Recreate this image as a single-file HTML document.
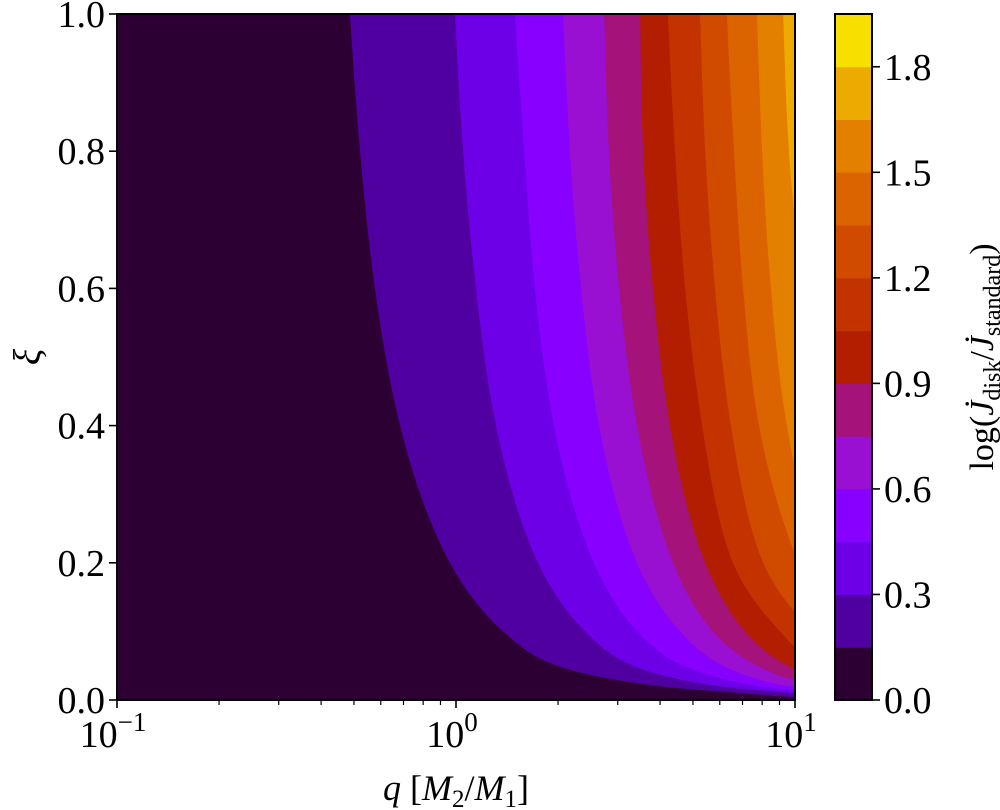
<!DOCTYPE html>
<html><head><meta charset="utf-8">
<style>
html,body{margin:0;padding:0;background:#fff;}
svg{display:block;font-family:"Liberation Serif","DejaVu Serif",serif;}
</style></head>
<body>
<svg id="chart" width="1000" height="810" viewBox="0 0 1000 810" xmlns="http://www.w3.org/2000/svg">
  <defs><clipPath id="plotclip"><rect x="117" y="14" width="678" height="686"/></clipPath></defs>
  <g id="plot" clip-path="url(#plotclip)"></g>
  <rect x="117" y="14" width="678" height="686" fill="none" stroke="#000" stroke-width="2"/>
  <g id="xaxis"></g>
  <g id="yaxis"></g>
  <g id="cbar"></g>
  <text x="456" y="800" font-size="36" text-anchor="middle"><tspan font-style="italic">q</tspan> [<tspan font-style="italic">M</tspan><tspan font-size="25" dy="7">2</tspan><tspan dy="-7">/</tspan><tspan font-style="italic">M</tspan><tspan font-size="25" dy="7">1</tspan><tspan dy="-7">]</tspan></text>
  <text transform="translate(40,357) rotate(-90)" font-size="38" font-style="italic" text-anchor="middle">ξ</text>
  <text transform="translate(993,357) rotate(-90)" font-size="34" text-anchor="middle">log(<tspan font-style="italic">J̇</tspan><tspan font-size="24" dy="7">disk</tspan><tspan dy="-7">/</tspan><tspan font-style="italic">J̇</tspan><tspan font-size="24" dy="7">standard</tspan><tspan dy="-7">)</tspan></text>
</svg>
<script>
// contour levels (boundaries between bands)
const levels = [0.15,0.3,0.45,0.6,0.75,0.9,1.05,1.2,1.35,1.5,1.65];
// band colours from 0.0 to 1.95 in steps of 0.15
const bandColors = ["#2d0033","#5000a0","#6e00e8","#8800ff","#9a10d2","#a4127a","#b31e00","#c33300","#d04a00","#db6400","#e48000","#edaa00","#f7e000"];
const cbarTicks = [0.0,0.3,0.6,0.9,1.2,1.5,1.8];
const yTicks = [0.0,0.2,0.4,0.6,0.8,1.0];
const xTickExps = [-1,0,1];
const xiRows = [1.0,0.8,0.6,0.4,0.2,0.1,0.05,0.02,0.01,0.003];
const boundaryLogQ = [
 [-0.313,-0.003,0.174,0.316,0.437,0.543,0.625,0.720,0.799,0.888,0.965],
 [-0.283,0.021,0.201,0.336,0.451,0.552,0.646,0.735,0.820,0.903,0.982],
 [-0.239,0.059,0.233,0.369,0.481,0.581,0.676,0.764,0.847,0.929,1.02],
 [-0.165,0.118,0.289,0.422,0.534,0.631,0.726,0.811,0.894,0.976,1.06],
 [-0.018,0.242,0.407,0.534,0.640,0.735,0.817,0.906,1.01,1.08,1.15],
 [0.139,0.381,0.534,0.661,0.758,0.853,0.956,1.05,1.12,1.2,1.28],
 [0.298,0.522,0.670,0.788,0.888,0.979,1.07,1.15,1.23,1.31,1.4],
 [0.602,0.779,0.897,0.985,1.08,1.17,1.26,1.35,1.44,1.53,1.62],
 [0.84,1.0,1.1,1.2,1.3,1.4,1.5,1.6,1.7,1.8,1.9],
 [1.05,1.2,1.35,1.5,1.6,1.7,1.8,1.9,2.0,2.1,2.2]
];
const NS="http://www.w3.org/2000/svg";
const X0=117,X1=795,Y0=700,Y1=14;
function xs(lq){return X0+(lq+1)/2*(X1-X0);}
function ys(xi){return Y0-xi*(Y0-Y1);}
function mk(tag,attrs,parent){const e=document.createElementNS(NS,tag);for(const k in attrs)e.setAttribute(k,attrs[k]);parent.appendChild(e);return e;}

const plot=document.getElementById('plot');
const bg=mk('rect',{x:X0,y:Y1,width:X1-X0,height:Y0-Y1,fill:bandColors[0]},plot);


levels.forEach((lv,k)=>{
  // spline in (log10 xi, log10 q) space, sampled densely
  const P=xiRows.map((xi,r)=>[Math.log10(xi),boundaryLogQ[r][k]]);
  const pts=[];
  for(let i=0;i<P.length-1;i++){
    const p0=P[Math.max(0,i-1)],p1=P[i],p2=P[i+1],p3=P[Math.min(P.length-1,i+2)];
    for(let s=0;s<20;s++){
      const t=s/20,t2=t*t,t3=t2*t;
      const f=(a,b,c,d)=>0.5*(2*b+(-a+c)*t+(2*a-5*b+4*c-d)*t2+(-a+3*b-3*c+d)*t3);
      const lt=f(p0[0],p1[0],p2[0],p3[0]);
      const lq=f(p0[1],p1[1],p2[1],p3[1]);
      pts.push([xs(lq),ys(Math.pow(10,lt))]);
    }
  }
  const last=P[P.length-1];
  pts.push([xs(last[1]),ys(Math.pow(10,last[0]))]);
  let d='M'+pts[0][0].toFixed(2)+','+(Y1-5);
  pts.forEach(p=>{d+=' L'+p[0].toFixed(2)+','+p[1].toFixed(2);});
  d+=' L'+pts[pts.length-1][0].toFixed(2)+','+(Y0+5)+' L1200,'+(Y0+5)+' L1200,'+(Y1-5)+' Z';
  const p=mk('path',{d:d,fill:bandColors[k+1]},plot);
  
  
});

// x axis
const xa=document.getElementById('xaxis');
xTickExps.forEach(e=>{
  const x=xs(e);
  const t=mk('line',{x1:x,y1:Y0,x2:x,y2:Y0+8,stroke:'#000','stroke-width':1.6},xa);
  
  
  const lab=mk('text',{x:x-4,y:747,'font-size':38,'text-anchor':'middle'},xa);
  
  
  lab.textContent='10';
  const sup=mk('tspan',{'font-size':27,dy:-16},lab);
  sup.textContent=e<0?'−'+(-e):String(e);
  if(e<1){for(let m=2;m<10;m++){
    const xm=xs(e+Math.log10(m));
    const mt=mk('line',{x1:xm,y1:Y0,x2:xm,y2:Y0+5,stroke:'#000','stroke-width':1.2},xa);
    
    
  }}
});
// y axis
const ya=document.getElementById('yaxis');
yTicks.forEach(v=>{
  const y=ys(v);
  const t=mk('line',{x1:X0-8,y1:y,x2:X0,y2:y,stroke:'#000','stroke-width':1.6},ya);
  
  
  const lab=mk('text',{x:X0-12,y:y+13,'font-size':38,'text-anchor':'end'},ya);
  
  
  lab.textContent=v.toFixed(1);
});
// colorbar
const cb=document.getElementById('cbar');
const CX=835,CW=37,CT=14,CB=700,VMAX=1.95;
function cy(v){return CB-v/VMAX*(CB-CT);}
bandColors.forEach((c,i)=>{
  const r=mk('rect',{x:CX,y:cy((i+1)*0.15),width:CW,height:cy(i*0.15)-cy((i+1)*0.15)+0.5,fill:c},cb);
  
  
});
const fr=mk('rect',{x:CX,y:CT,width:CW,height:CB-CT,fill:'none',stroke:'#000','stroke-width':2},cb);


cbarTicks.forEach(v=>{
  const y=cy(v);
  const t=mk('line',{x1:CX+CW,y1:y,x2:CX+CW+8,y2:y,stroke:'#000','stroke-width':1.6},cb);
  
  
  const lab=mk('text',{x:CX+CW+12,y:y+13,'font-size':38},cb);
  
  
  lab.textContent=v.toFixed(1);
});
</script>
</body></html>
